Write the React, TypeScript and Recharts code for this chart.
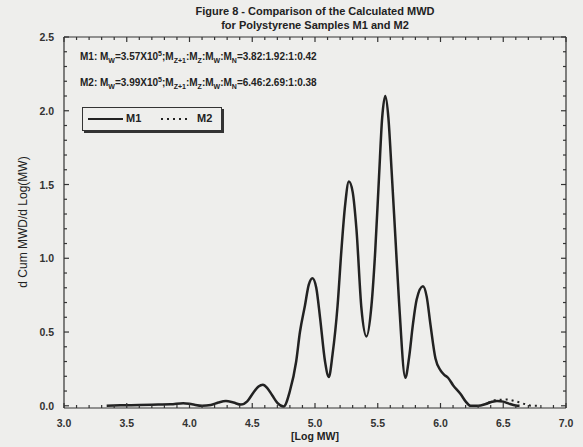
import { Line, LineChart, XAxis, YAxis } from "recharts";

// M1 curve
const logMwM1 = [
  3.34, 3.45, 3.6, 3.75, 3.85, 3.95, 4.02, 4.1, 4.17, 4.23, 4.29, 4.35, 4.41, 4.46, 4.51, 4.55, 4.585, 4.62,
  4.66, 4.7, 4.75, 4.8, 4.85, 4.88, 4.92, 4.95, 4.98, 5.01, 5.04, 5.08, 5.11, 5.14, 5.18, 5.21, 5.24, 5.27,
  5.3, 5.33, 5.37, 5.41, 5.45, 5.48, 5.51, 5.535, 5.56, 5.585, 5.61, 5.64, 5.67, 5.72, 5.75, 5.78, 5.81,
  5.86, 5.89, 5.92, 5.96, 6.0, 6.03, 6.06, 6.1, 6.16, 6.2, 6.24, 6.3, 6.36, 6.41, 6.45, 6.5, 6.55, 6.6, 6.63,
];
const m1Values = [
  0.0, 0.003, 0.005, 0.008, 0.01, 0.018, 0.01, 0.0, 0.005, 0.022, 0.032, 0.022, 0.008, 0.03, 0.09, 0.13, 0.142,
  0.12, 0.07, 0.02, -0.005, 0.1, 0.3, 0.5, 0.68, 0.82, 0.865, 0.8, 0.6, 0.3, 0.195, 0.35, 0.68, 1.05, 1.36,
  1.52, 1.45, 1.2, 0.66, 0.47, 0.68, 1.05, 1.55, 1.95, 2.1, 1.95, 1.6, 1.15, 0.7, 0.19, 0.33, 0.55, 0.72,
  0.81, 0.74, 0.55, 0.32, 0.24, 0.21, 0.19, 0.14, 0.08, 0.03, 0.0, 0.0, 0.012, 0.027, 0.033, 0.028, 0.013,
  0.002, 0.0,
];

// M2 only shows where it leaves M1 (high-MW tail)
const logMwM2 = [6.38, 6.45, 6.53, 6.6, 6.67, 6.73, 6.8];
const m2Values = [0.02, 0.04, 0.042, 0.03, 0.012, 0.0, 0.0];

const xMajor = [3.0, 3.5, 4.0, 4.5, 5.0, 5.5, 6.0, 6.5, 7.0];
const yMajor = [0.0, 0.5, 1.0, 1.5, 2.0, 2.5];
const xTicks = Array.from({ length: 41 }, (_, i) => Math.round((3 + i * 0.1) * 10) / 10);
const yTicks = Array.from({ length: 26 }, (_, i) => Math.round(i * 0.1 * 10) / 10);

const m1Data = logMwM1.map((x, i) => ({ logMW: x, value: m1Values[i] }));
const m2Data = logMwM2.map((x, i) => ({ logMW: x, value: m2Values[i] }));

const INK = "#222";
const AXIS = "#333";
const BG = "#eeeeec";
const FONT = "'Liberation Sans', Arial, sans-serif";

const isMajor = (v: number, majors: number[]) => majors.some((m) => Math.abs(m - v) < 1e-6);

// ticks point into the plot on all four sides
function BottomTick({ x, y, payload }: any) {
  const major = isMajor(payload.value, xMajor);
  return (
    <g>
      <path d={`M${x},${y}V${y - (major ? 5 : 3)}`} stroke={AXIS} strokeWidth={1.2} fill="none" />
      {major && (
        <text x={x} y={y + 19} textAnchor="middle" fontSize={10.5} fontWeight="bold" fill="#333" fontFamily={FONT}>
          {payload.value.toFixed(1)}
        </text>
      )}
    </g>
  );
}

function TopTick({ x, y, payload }: any) {
  const major = isMajor(payload.value, xMajor);
  return <path d={`M${x},${y}V${y + (major ? 5 : 3)}`} stroke={AXIS} strokeWidth={1.2} fill="none" />;
}

function LeftTick({ x, y, payload }: any) {
  const major = isMajor(payload.value, yMajor);
  return (
    <g>
      <path d={`M${x},${y}H${x + (major ? 5 : 3)}`} stroke={AXIS} strokeWidth={1.2} fill="none" />
      {major && (
        <text x={x - 10} y={y + 4} textAnchor="end" fontSize={10.5} fontWeight="bold" fill="#333" fontFamily={FONT}>
          {payload.value.toFixed(1)}
        </text>
      )}
    </g>
  );
}

function RightTick({ x, y, payload }: any) {
  const major = isMajor(payload.value, yMajor);
  return <path d={`M${x},${y}H${x - (major ? 5 : 3)}`} stroke={AXIS} strokeWidth={1.2} fill="none" />;
}

const sub = { fontSize: 7, position: "relative" as const, top: 3 };
const sup = { fontSize: 7, position: "relative" as const, top: -4 };

function Ratio({ label, mw, ratio, top }: { label: string; mw: string; ratio: string; top: number }) {
  return (
    <div style={{ position: "absolute", left: 80, top, fontSize: 10, fontWeight: "bold", color: "#222", whiteSpace: "nowrap" }}>
      {label}: M<span style={sub}>W</span>={mw}X10<span style={sup}>5</span>;M<span style={sub}>Z+1</span>:M
      <span style={sub}>Z</span>:M<span style={sub}>W</span>:M<span style={sub}>N</span>={ratio}
    </div>
  );
}

const axisCommon = {
  type: "number" as const,
  allowDataOverflow: true,
  interval: 0 as const,
  tickSize: 0,
  tickMargin: 0,
  tickLine: false,
  axisLine: { stroke: AXIS, strokeWidth: 1.2 },
};

const Y_DOMAIN: [number, number] = [-0.015, 2.5];

export default function App() {
  return (
    <div
      style={{
        position: "absolute",
        left: 0,
        top: 0,
        width: 583,
        height: 447,
        background: BG,
        fontFamily: FONT,
        overflow: "hidden",
      }}
    >
      <div style={{ position: "absolute", left: 0, width: 630, top: 4, textAlign: "center", fontSize: 11, fontWeight: "bold", lineHeight: "14px", color: "#222" }}>
        Figure 8 - Comparison of the Calculated MWD
        <br />
        for Polystyrene Samples M1 and M2
      </div>

      <div style={{ position: "absolute", left: 0, top: 0 }}>
        <LineChart width={583} height={447} data={m1Data} margin={{ top: 36, right: 16, bottom: 38, left: 63 }}>
          <XAxis xAxisId="b" dataKey="logMW" domain={[3, 7]} ticks={xTicks} height={1} tick={BottomTick} {...axisCommon} />
          <XAxis xAxisId="t" orientation="top" dataKey="logMW" domain={[3, 7]} ticks={xTicks} height={1} tick={TopTick} {...axisCommon} />
          <YAxis yAxisId="l" domain={Y_DOMAIN} ticks={yTicks} width={1} tick={LeftTick} {...axisCommon} />
          <YAxis yAxisId="r" orientation="right" domain={Y_DOMAIN} ticks={yTicks} width={1} tick={RightTick} {...axisCommon} />
          <Line
            xAxisId="b"
            yAxisId="l"
            data={m1Data}
            dataKey="value"
            type="monotone"
            stroke={INK}
            strokeWidth={2.5}
            dot={false}
            isAnimationActive={false}
          />
          <Line
            xAxisId="b"
            yAxisId="l"
            data={m2Data}
            dataKey="value"
            type="monotone"
            stroke={INK}
            strokeWidth={2}
            strokeDasharray="2 4"
            dot={false}
            isAnimationActive={false}
          />
          <Line xAxisId="t" yAxisId="r" data={[]} dataKey="value" stroke="none" dot={false} legendType="none" isAnimationActive={false} />
        </LineChart>
      </div>

      <Ratio label="M1" mw="3.57" ratio="3.82:1.92:1:0.42" top={51} />
      <Ratio label="M2" mw="3.99" ratio="6.46:2.69:1:0.38" top={77} />

      {/* legend box with drop shadow */}
      <div
        style={{
          position: "absolute",
          left: 82,
          top: 107,
          width: 138,
          height: 22,
          border: "1px solid #333",
          background: BG,
          boxShadow: "2px 2px 0 #333",
          fontSize: 11,
          fontWeight: "bold",
          color: "#222",
        }}
      >
        <svg width={138} height={22} style={{ position: "absolute", left: 0, top: 0 }}>
          <line x1={5} x2={40} y1={11} y2={11} stroke={INK} strokeWidth={2} />
          <line x1={78} x2={108} y1={11} y2={11} stroke={INK} strokeWidth={2} strokeDasharray="2 4" />
        </svg>
        <span style={{ position: "absolute", left: 43, top: 4 }}>M1</span>
        <span style={{ position: "absolute", left: 114, top: 4 }}>M2</span>
      </div>

      <div
        style={{
          position: "absolute",
          left: 23,
          top: 222,
          transform: "translate(-50%, -50%) rotate(-90deg)",
          fontSize: 12,
          color: "#222",
          whiteSpace: "nowrap",
        }}
      >
        d Cum MWD/d Log(MW)
      </div>
      <div style={{ position: "absolute", left: 315, top: 436, transform: "translate(-50%, -50%)", fontSize: 10.5, fontWeight: "bold", color: "#222" }}>
        [Log MW]
      </div>
    </div>
  );
}
